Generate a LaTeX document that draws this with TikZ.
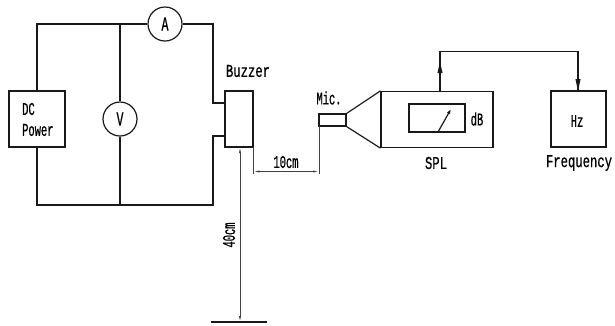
\documentclass[tikz,border=0pt]{standalone}
\usepackage{fontspec}
\newfontfamily\cad[FakeStretch=0.58,FakeBold=0.6]{Liberation Mono}
\newfontfamily\cadwide[FakeStretch=0.68,FakeBold=0.6]{Liberation Mono}
\usetikzlibrary{arrows.meta}
\tikzset{
  wire/.style={line width=1.2pt,black!90},
  thin line/.style={line width=0.7pt,black!75},
  box/.style={draw=black!90,line width=1.2pt,fill=none,inner sep=0pt},
  meter/.style={circle,draw=black!90,line width=1.2pt,minimum size=34pt,inner sep=0pt,font=\cad\fontsize{20}{20}\selectfont},
  lbl/.style={inner sep=0pt,font=\cad\fontsize{18}{20}\selectfont},
  widelbl/.style={inner sep=0pt,font=\cadwide\fontsize{18}{20}\selectfont},
  dimtip/.style={{Latex[length=6pt,width=2pt]}-{Latex[length=6pt,width=2pt]}},
  headfill/.style={fill=black!90},
}
\begin{document}
\begin{tikzpicture}[x=1pt,y=-1pt]
\useasboundingbox (0,0) rectangle (615,325);
% boxes
\node[box,minimum width=56pt,minimum height=56pt] (dc) at (37,119) {};
\node[box,minimum width=28pt,minimum height=56pt] (buz) at (239,119) {};
\node[meter] (A) at (165,24) {A};
\node[meter] (V) at (120,119) {V};
\node[box,minimum width=27pt,minimum height=12pt] (mic) at (332.5,120) {};
\node[box,minimum width=112pt,minimum height=56pt] (spl) at (437,119.5) {};
\node[box,minimum width=56pt,minimum height=28pt] (dial) at (437,118) {};
\node[box,minimum width=55pt,minimum height=56pt] (hz) at (578.5,119) {};
% corner points
\coordinate (tl) at (37,24);
\coordinate (tm) at (120,24);
\coordinate (tr) at (213,24);
\coordinate (bl) at (37,205);
\coordinate (bm) at (120,205);
\coordinate (br) at (213,205);
\coordinate (bu1) at (213,103);
\coordinate (bu2) at (213,136);
\coordinate (buA) at (225,103);
\coordinate (buB) at (225,136);
% wiring
\draw[wire] (dc.north) -- (tl) -- (A.west);
\draw[wire] (A.east) -- (tr) -- (bu1) -- (buA);
\draw[wire] (dc.south) -- (bl) -- (br) -- (bu2) -- (buB);
\draw[wire] (tm) -- (V.north);
\draw[wire] (V.south) -- (bm);
% horn
\draw[wire] (mic.north east) -- (spl.north west);
\draw[wire] (mic.south east) -- (spl.south west);
% needle
\coordinate (ndl0) at (438,132);
\coordinate (ndl1) at (451,109);
\draw[wire,-{Latex[length=5pt,width=3.5pt]}] (ndl0) -- (ndl1);
% SPL to Hz
\coordinate (s0) at (440,91.5);
\coordinate (s1) at (440,51.5);
\coordinate (s2) at (578,51.5);
\coordinate (s3) at (578,91);
\draw[wire,line width=1.4pt] (s0) -- (s1) -- (s2) -- (s3);
\path[headfill] (440,62) -- (442.6,73) -- (437.4,73) -- cycle;
\path[headfill] (578,91) -- (580.6,79) -- (575.4,79) -- cycle;
% dimensions
\coordinate (d40a) at (240,147);
\coordinate (d40b) at (240,322);
\coordinate (g0) at (211,322);
\coordinate (g1) at (267,322);
\draw[thin line,dimtip] (d40a) -- (d40b);
\draw[wire] (g0) -- (g1);
\coordinate (e1) at (253.5,147);
\coordinate (e1b) at (253.5,174);
\coordinate (e2) at (319,126);
\coordinate (e2b) at (319,174);
\coordinate (d10a) at (253.5,171.5);
\coordinate (d10b) at (319,171.5);
\draw[thin line] (e1) -- (e1b);
\draw[thin line] (e2) -- (e2b);
\draw[thin line,dimtip] (d10a) -- (d10b);
% labels
\node[lbl,anchor=west] (t1) at (22,109) {DC};
\node[lbl,anchor=west] (t2) at (22,130) {Power};
\node[widelbl] (t3) at (248,71) {Buzzer};
\node[lbl] (t4) at (329,98) {Mic.};
\node[lbl] (t5) at (477,119) {dB};
\node[widelbl] (t6) at (436,163) {SPL};
\node[lbl] (t7) at (577,121) {Hz};
\node[widelbl] (t8) at (579,163) {Frequency};
\node[lbl] (t9) at (286,162) {10cm};
\node[lbl,rotate=90] (t10) at (229,235) {40cm};
\end{tikzpicture}
\end{document}
